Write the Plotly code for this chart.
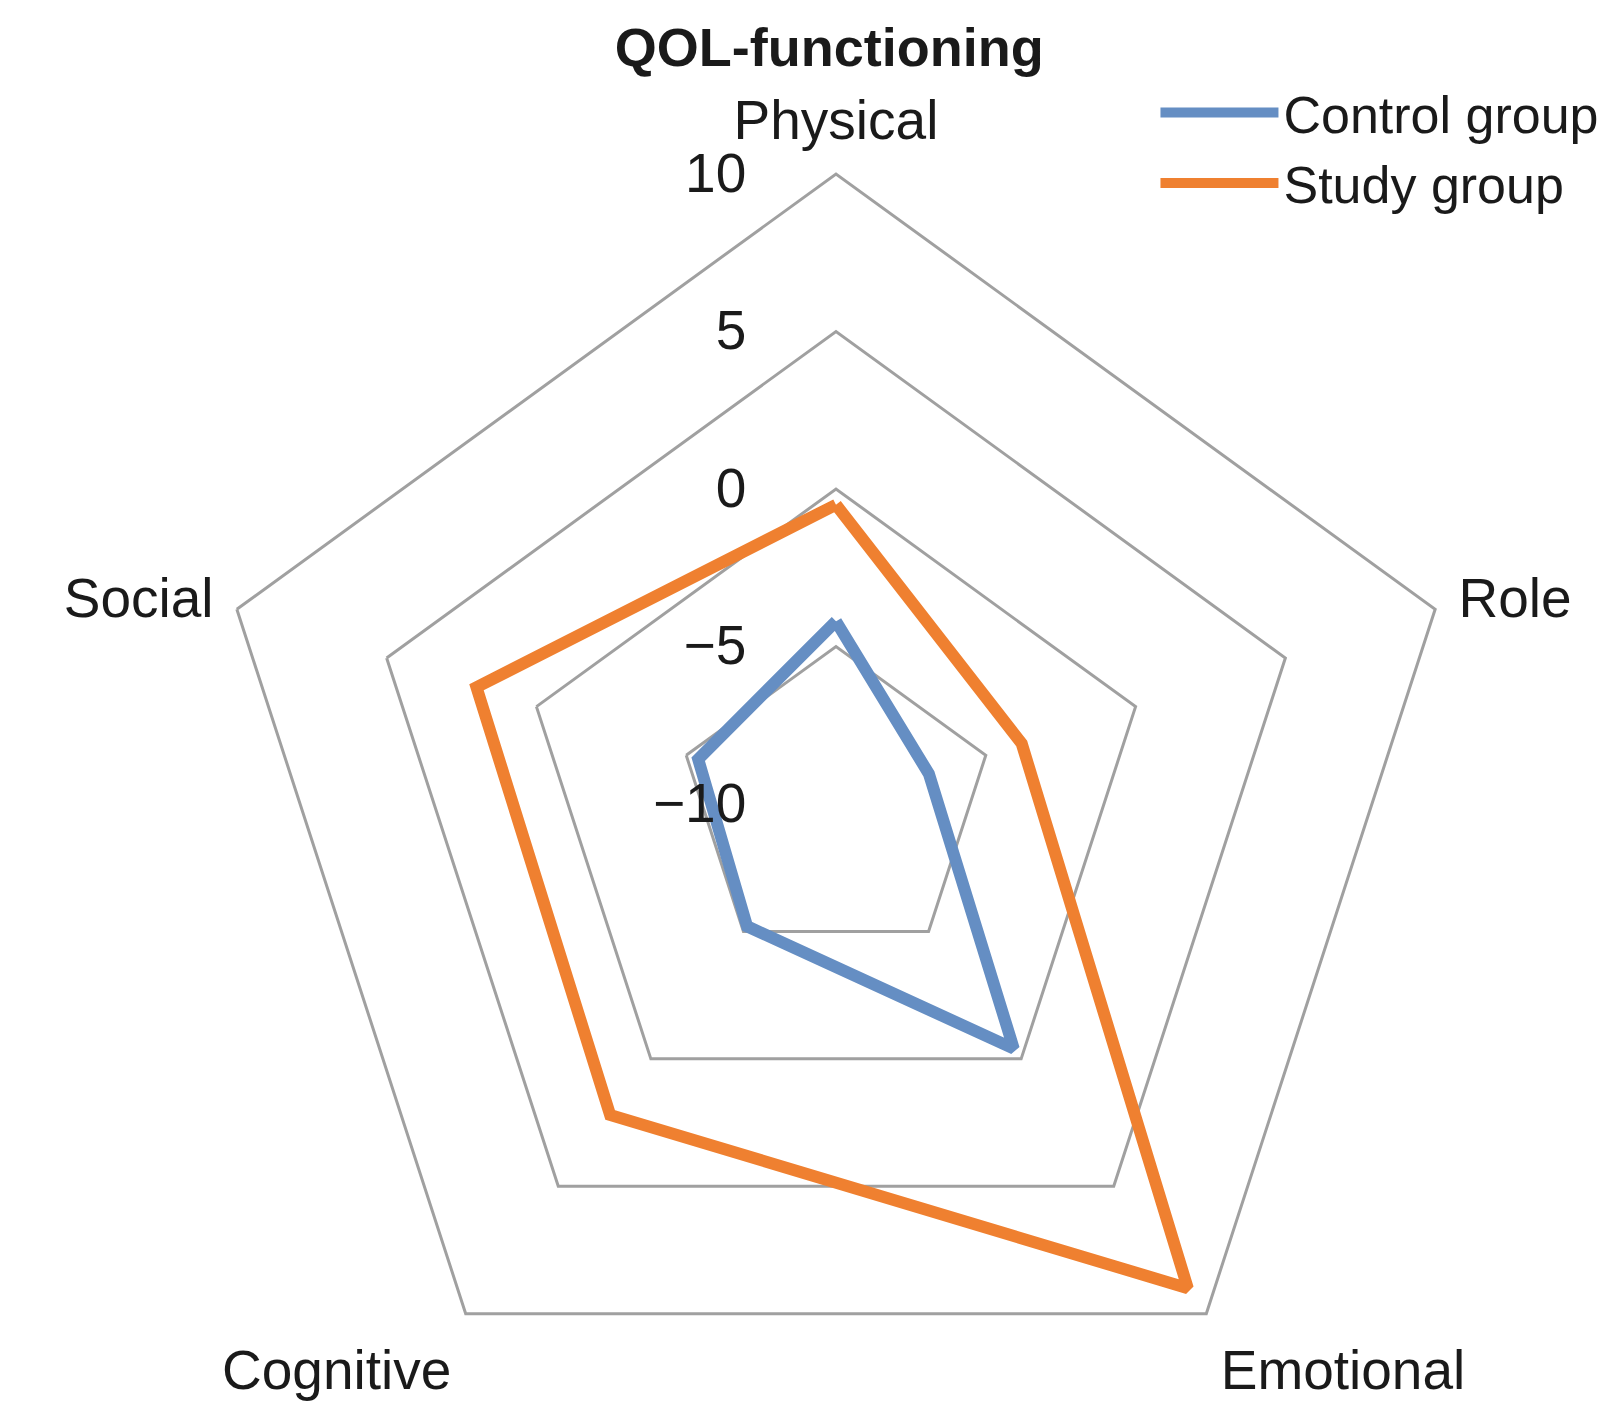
import plotly.graph_objects as go

categories = ["Physical", "Role", "Emotional", "Cognitive", "Social"]
control_group = [-4.2, -6.9, -0.4, -5.2, -5.4]
study_group = [-0.5, -3.8, 9.0, 2.2, 2.0]
radial_ticks = [-10, -5, 0, 5, 10]

W, H = 1623, 1426
FONT = "Liberation Sans, Arial, sans-serif"
BLUE = "#658EC3"
ORANGE = "#EF8030"
GRID = "#A0A0A0"
TXT = "#1a1a1a"

def closed(v):
    return list(v) + [v[0]]

fig = go.Figure()
fig.add_trace(go.Scatterpolar(
    r=closed(control_group), theta=closed(categories), mode="lines",
    name="Control group", line=dict(color=BLUE, width=12)))
fig.add_trace(go.Scatterpolar(
    r=closed(study_group), theta=closed(categories), mode="lines",
    name="Study group", line=dict(color=ORANGE, width=12)))

R = 630
cx = 828
fig.update_layout(
    width=W, height=H,
    margin=dict(l=0, r=0, t=0, b=0),
    paper_bgcolor="white",
    font=dict(family=FONT, size=55, color=TXT),
    title=dict(text="<b>QOL-functioning</b>", x=0.506, xanchor="center",
               y=0.986, yanchor="top", font=dict(size=54, family=FONT, color=TXT)),
    polar=dict(
        domain=dict(x=[(cx - R) / W, (cx + R) / W], y=[0, 2 * R / H]),
        bgcolor="white",
        gridshape="linear",
        radialaxis=dict(range=[-10, 10], tickvals=radial_ticks, angle=90,
                        side="counterclockwise", tickangle=90,
                        showline=False, ticks="outside", ticklen=70,
                        tickcolor="rgba(0,0,0,0)",
                        gridcolor=GRID, gridwidth=3,
                        tickfont=dict(size=55, family=FONT, color=TXT)),
        angularaxis=dict(rotation=90, direction="clockwise", showgrid=False,
                         showline=True, linecolor=GRID, linewidth=3,
                         ticks="outside", ticklen=12, tickcolor="rgba(0,0,0,0)",
                         tickfont=dict(size=55, family=FONT, color=TXT)),
    ),
    legend=dict(x=0.707, y=0.955, xanchor="left", yanchor="top",
                itemwidth=118, font=dict(size=52, family=FONT, color=TXT),
                bgcolor="rgba(0,0,0,0)", tracegroupgap=0),
    showlegend=True,
)

fig.write_html("out.html")
